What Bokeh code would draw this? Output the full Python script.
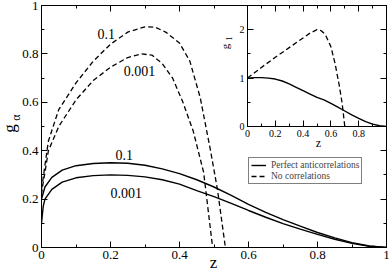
import numpy as np
from bokeh.plotting import figure
from bokeh.models import (LinearAxis, FixedTicker, Label, Legend, LegendItem, Range1d)
from bokeh.embed import file_html
from bokeh.resources import INLINE

# ---------------- data ----------------
z_solid_01 = [0.0, 0.01, 0.03, 0.06, 0.1, 0.15, 0.2, 0.25, 0.3, 0.35, 0.4, 0.45, 0.5,
              0.55, 0.6, 0.65, 0.7, 0.75, 0.8, 0.85, 0.9, 0.95, 1.0]
g_solid_01 = [0.20, 0.25, 0.29, 0.32, 0.338, 0.347, 0.35, 0.348, 0.34, 0.325, 0.305, 0.28, 0.25,
              0.215, 0.178, 0.145, 0.115, 0.088, 0.062, 0.04, 0.02, 0.006, 0.0]

z_solid_0001 = [0.0, 0.005, 0.01, 0.03, 0.06, 0.1, 0.15, 0.2, 0.25, 0.3, 0.35, 0.4, 0.45, 0.5,
                0.55, 0.6, 0.65, 0.7, 0.75, 0.8, 0.85, 0.9, 0.95, 1.0]
g_solid_0001 = [0.10, 0.17, 0.20, 0.24, 0.27, 0.288, 0.297, 0.30, 0.298, 0.292, 0.28, 0.262, 0.235, 0.21,
                0.182, 0.153, 0.125, 0.099, 0.076, 0.054, 0.034, 0.017, 0.005, 0.0]

z_dash_01 = [0.0, 0.005, 0.01, 0.02, 0.05, 0.1, 0.15, 0.2, 0.25, 0.3, 0.33, 0.36, 0.4,
             0.43, 0.46, 0.49, 0.51, 0.533]
g_dash_01 = [0.24, 0.29, 0.34, 0.44, 0.57, 0.68, 0.77, 0.84, 0.89, 0.912, 0.91, 0.89, 0.845,
             0.77, 0.62, 0.40, 0.24, 0.0]

z_dash_0001 = [0.0, 0.005, 0.01, 0.02, 0.05, 0.1, 0.15, 0.2, 0.25, 0.29, 0.32, 0.35, 0.38,
               0.41, 0.44, 0.47, 0.496]
g_dash_0001 = [0.22, 0.27, 0.31, 0.40, 0.50, 0.61, 0.69, 0.745, 0.785, 0.80, 0.795, 0.76, 0.70,
               0.60, 0.48, 0.31, 0.0]

curve_labels = ["0.1", "0.001", "0.1", "0.001"]

# inset g_1
z_in_solid = [0.0, 0.05, 0.1, 0.15, 0.2, 0.25, 0.3, 0.35, 0.4, 0.45, 0.5, 0.55, 0.6, 0.65,
              0.7, 0.75, 0.8, 0.85, 0.9, 0.95, 1.0]
g_in_solid = [1.0, 1.01, 1.01, 1.0, 0.98, 0.94, 0.88, 0.81, 0.74, 0.67, 0.60, 0.55, 0.48, 0.40,
              0.32, 0.24, 0.17, 0.10, 0.05, 0.015, 0.0]
z_in_dash = [0.0, 0.1, 0.2, 0.3, 0.4, 0.45, 0.5, 0.53, 0.56, 0.6, 0.63, 0.66, 0.68, 0.7]
g_in_dash = [1.0, 1.22, 1.43, 1.63, 1.83, 1.93, 2.0, 1.98, 1.9, 1.65, 1.3, 0.85, 0.5, 0.0]

main_ticks = [0, 0.2, 0.4, 0.6, 0.8, 1.0]
main_tick_labels = ["0", "0.2", "0.4", "0.6", "0.8", "1"]
inset_x_ticks = [0, 0.2, 0.4, 0.6, 0.8]
inset_x_labels = ["0", "0.2", "0.4", "0.6", "0.8"]
inset_y_ticks = [0, 1, 2]
inset_y_labels = ["0", "1", "2"]
legend_labels = ["Perfect anticorrelations", "No correlations"]
axis_titles = ["z", "g", "α", "z", "g", "1"]

FONT = "Liberation Serif"


def style_axis(ax, ticks, minor, labels, size, show_labels=True):
    ax.ticker = FixedTicker(ticks=ticks, minor_ticks=minor)
    ax.major_tick_in = 6
    ax.major_tick_out = 0
    ax.minor_tick_in = 3
    ax.minor_tick_out = 0
    ax.axis_line_color = "black"
    ax.major_tick_line_color = "black"
    ax.minor_tick_line_color = "black"
    ax.axis_line_width = 1
    ax.major_label_overrides = {t: (l if show_labels else "") for t, l in zip(ticks, labels)}
    ax.major_label_text_font = FONT
    ax.major_label_text_font_size = size
    ax.major_label_text_color = "black"
    ax.major_label_standoff = 3 if show_labels else 0


# ---------------- main figure ----------------
p = figure(width=390, height=273, x_range=Range1d(0, 1), y_range=Range1d(0, 1),
           output_backend="svg", toolbar_location=None,
           x_axis_location=None, y_axis_location=None,
           min_border_left=41, min_border_right=4, min_border_top=5, min_border_bottom=26)
p.styles = {"position": "absolute", "left": "0px", "top": "0px"}
p.grid.visible = False
p.outline_line_color = "black"
p.outline_line_width = 1
p.background_fill_color = "white"
p.border_fill_color = "white"

minor_main = [round(0.1 * i, 2) for i in range(11)]
for loc, show in (("below", True), ("left", True), ("above", False), ("right", False)):
    ax = LinearAxis()
    style_axis(ax, main_ticks, minor_main, main_tick_labels, "13px", show)
    p.add_layout(ax, loc)

r1 = p.line(z_solid_01, g_solid_01, line_color="black", line_width=1.4)
r2 = p.line(z_solid_0001, g_solid_0001, line_color="black", line_width=1.4)
r3 = p.line(z_dash_01, g_dash_01, line_color="black", line_width=1.3, line_dash="5 3")
r4 = p.line(z_dash_0001, g_dash_0001, line_color="black", line_width=1.3, line_dash="5 3")

label_pos = [(0.188, 0.884), (0.284, 0.731), (0.240, 0.384), (0.246, 0.227)]
for (lx, ly), t in zip(label_pos, curve_labels):
    p.add_layout(Label(x=lx, y=ly, text=t, text_font=FONT, text_font_size="14px",
                       text_align="center", text_baseline="middle", text_color="black"))

legend = Legend(items=[LegendItem(label=legend_labels[0], renderers=[r1]),
                       LegendItem(label=legend_labels[1], renderers=[r3])],
                location=(207, 63), orientation="vertical",
                label_text_font=FONT, label_text_font_size="9.5px",
                label_height=10, glyph_height=10, glyph_width=15,
                label_standoff=5, spacing=1, padding=2, margin=0,
                border_line_color="black", border_line_width=1,
                background_fill_color="white", background_fill_alpha=1)
p.add_layout(legend, "center")

# ---------------- inset ----------------
q = figure(width=178, height=150, x_range=Range1d(0, 1), y_range=Range1d(0, 2.5),
           output_backend="svg", toolbar_location=None,
           x_axis_location=None, y_axis_location=None,
           min_border_left=35, min_border_right=4, min_border_top=5, min_border_bottom=24)
q.styles = {"position": "absolute", "left": "212px", "top": "0px"}
q.grid.visible = False
q.outline_line_color = "black"
q.background_fill_color = "white"
q.border_fill_alpha = 0

minor_in_x = [round(0.1 * i, 2) for i in range(11)]
minor_in_y = [0, 0.5, 1.0, 1.5, 2.0, 2.5]
for loc, show in (("below", True), ("above", False)):
    ax = LinearAxis()
    style_axis(ax, inset_x_ticks, minor_in_x, inset_x_labels, "10px", show)
    q.add_layout(ax, loc)
for loc, show in (("left", True), ("right", False)):
    ax = LinearAxis()
    style_axis(ax, inset_y_ticks, minor_in_y, inset_y_labels, "10px", show)
    q.add_layout(ax, loc)

q.line(z_in_solid, g_in_solid, line_color="black", line_width=1.4)
q.line(z_in_dash, g_in_dash, line_color="black", line_width=1.3, line_dash="5 3")

# ---------------- transparent overlay for the axis titles ----------------
t = figure(width=390, height=273, x_range=Range1d(0, 390), y_range=Range1d(273, 0),
           output_backend="svg", toolbar_location=None,
           x_axis_location=None, y_axis_location=None,
           min_border=0, min_border_left=0, min_border_right=0,
           min_border_top=0, min_border_bottom=0)
t.styles = {"position": "absolute", "left": "0px", "top": "0px"}
t.grid.visible = False
t.outline_line_color = None
t.background_fill_alpha = 0
t.border_fill_alpha = 0

title_specs = [  # (x, y, size, angle)
    (213, 262, "17px", 0),
    (9, 128, "17px", np.pi / 2),
    (15, 117, "12px", np.pi / 2),
    (318, 142, "12px", 0),
    (224, 46, "11px", np.pi / 2),
    (228, 38, "8px", np.pi / 2),
]
for txt, (tx, ty, ts, ta) in zip(axis_titles, title_specs):
    t.add_layout(Label(x=tx, y=ty, text=txt, text_font=FONT, text_font_size=ts,
                       angle=ta, text_align="center", text_baseline="middle",
                       text_color="black"))

open("out.html", "w").write(file_html([p, q, t], INLINE))
